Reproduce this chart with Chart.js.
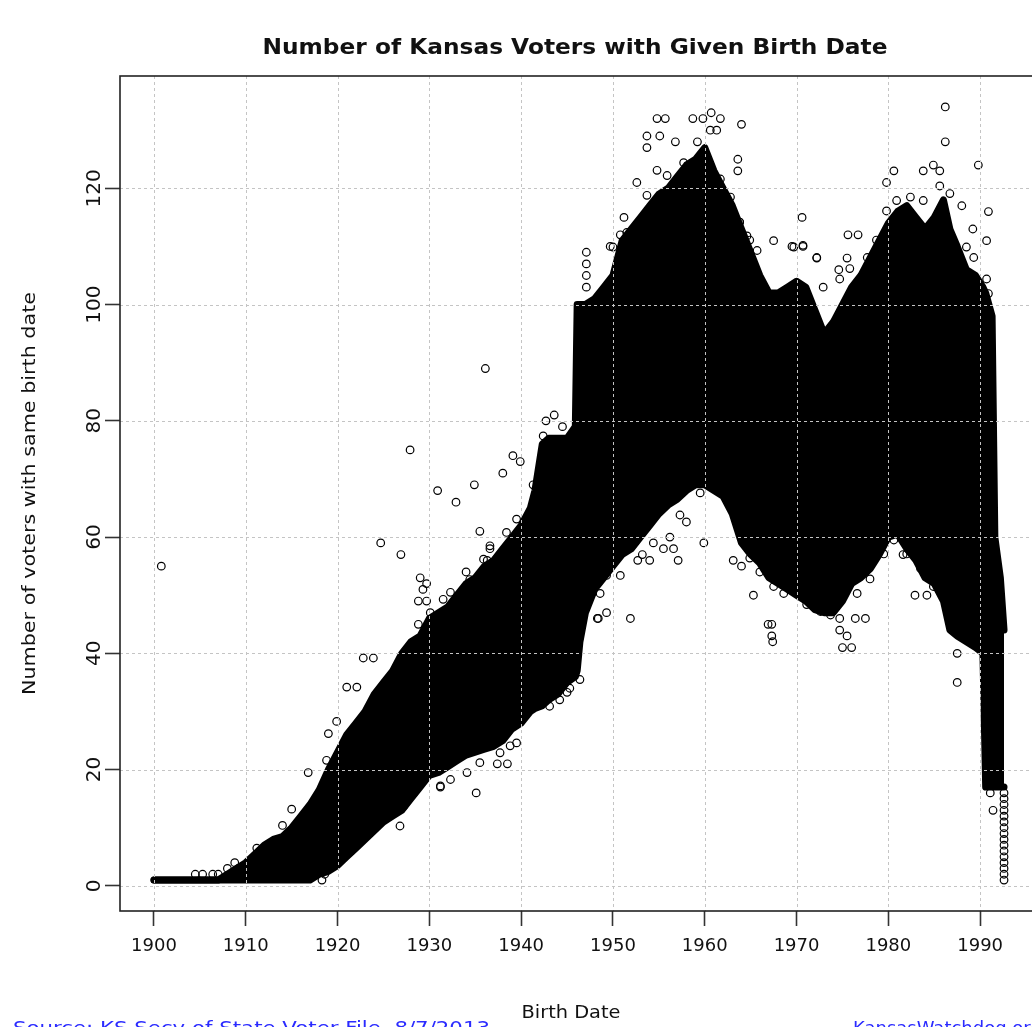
<!DOCTYPE html>
<html>
<head>
<meta charset="utf-8">
<script src="https://cdn.jsdelivr.net/npm/chart.js@4/dist/chart.umd.min.js"></script>
<style>
  html, body { margin: 0; padding: 0; background: #fff; overflow: hidden; }
  #wrap { width: 1032px; height: 1027px; overflow: hidden; position: relative; }
  canvas { display: block; }
</style>
</head>
<body>
<div id="wrap"><canvas id="c" width="1046" height="1027"></canvas></div>
<script>
// ---- Data ----
// Envelope of the dense cloud of points (birth year, count of voters)
const bandYears = [1900,1901,1902,1903,1904,1905,1906,1907,1908,1909,1910,1911,1912,1913,1914,1915,1916,1917,1918,1919,
  1920,1921,1922,1923,1924,1925,1926,1927,1928,1929,1930,1931,1932,1933,1934,1935,1936,1937,1938,1939,
  1940,1941,1941.5,1942.3,1943,1944,1945,1945.9,1946.1,1946.4,1947,1948,1949,1950,1951,1952,1953,1954,1955,1956,
  1957,1958,1959,1960,1961,1962,1963,1964,1965,1966,1967,1968,1969,1970,1971,1972,1973,1974,1975,1976,
  1977,1978,1979,1980,1981,1982,1983,1984,1985,1986,1986.7,1987.5,1988.5,1989.5,1990.3,1990.6,1991.3,1991.6,1992.2,1992.6];
const bandUpper = [1,1,1,1,1,1,1,1,2,3,4,5.5,7,8,8.5,10,12,14,16.5,20,
  23,26,28,30,33,35,37,40,42,43,46,47,48,50,52,53,55,56,58,60,
  62,65,68,76,77,77,77,79,100,100,100,101,103,105,111,113,115,117,119,120,
  122,124,125,127,123,120,117,113,109,105,102,102,103,104,103,99,95,97,100,103,
  105,108,111,114,116,117,115,113,115,118,113,110,106,105,103,102,98,60,53,44];
const bandLower = [1,1,1,1,1,1,1,1,1,1,1,1,1,1,1,1,1,1,2,2.5,
  3.5,5,6.5,8,9.5,11,12,13,15,17,19,19.5,20.5,21.5,22.5,23,23.5,24,25,27,
  28,30,30.5,31,32,33,35,36,37,42,47,51,53,55,57,58,60,62,64,65.5,
  66.5,68,69,69,68,67,64,59,57,55.5,53,52,51,50,49,47.5,47,47,49,52,
  53,54.5,57,60,60.5,58,56,53,52,49,44,43,42,41,40,17,17,17,17,17];

// Individual points at the edges of, or outside, the dense cloud
const pointYears = [1900.8,1904.5,1905.3,1906.4,1907,1908,1908.8,1909.2,1911.2,1914,1915,1916.8,1918.8,1919,1919.9,1921,1922.1,1922.8,1923.9,
  1918.3,1918.6,1926.8,1924.7,1926.9,1927.9,1930.9,1932.9,1934.9,1936.1,1938,1939.1,1939.9,1941.3,1942.7,1943.6,1944.5,1935.5,1934,1936.6,1936.3,
  1929,1929.7,1929.3,1928.8,1929.7,1928.8,1935.1,1938.5,1937.4,1931.2,1944.2,1945.3,1948.3,
  1947.1,1947.1,1947.1,1947.1,
  1954.8,1955.7,1958.7,1959.8,1960.7,1961.7,1964,1953.7,1955.1,1953.7,1956.8,1959.2,1960.6,1961.3,1963.6,1963.6,1952.6,1951.2,1949.7,1950.8,
  1948.4,1949.3,1951.9,1952.7,1954,1954.4,1955.5,1956.6,1957.1,1956.2,1959.9,1963.1,1964,1965.3,1953.2,
  1986.2,1986.2,1989.8,1990.9,1990.7,1989.2,1970.6,1967.5,1975.6,1976.7,1980.6,1979.8,1983.8,1984.9,1985.6,1988,1969.5,1970.7,1972.2,1972.9,1975.5,1974.6,
  1967.3,1967.3,1966.9,1967.4,1975,1976,1974.7,1975.5,1976.4,1977.5,1982.9,1984.2,1981.6,1987.5,1987.5,1991.4,1991.1,
  1992.6,1992.6,1992.6,1992.6,1992.6,1992.6,1992.6,1992.6,1992.6,1992.6,1992.6,1992.6,1992.6,1992.6,1992.6,1992.6,
  1953.7,1954.8,1955.9,1957.7,1951.5,1950,1961.7,1962.8,1963.8,1964.9,1965.7,
  1949.3,1950.8,1948.6,1954.4,1955.9,1957.3,1958,1959.5,1960.6,1961.7,1962.4,1963.8,1964.6,
  1969.7,1970.7,1972.2,1974.7,1975.8,1977.7,1978.7,1979.8,1980.9,1982.4,1983.8,1985.6,1986.7,1988.5,1989.3,1990.7,1990.9,1963.8,1964.6,1966,
  1964.9,1966,1967.5,1968.6,1971.1,1972.6,1973.7,1974.7,1976.6,1978,1979.5,1980.6,1982,1983.5,1984.9,1986,
  1942.4,1943.9,1939.5,1938.4,1936.6,1935.9,1934.4,1932.3,1931.5,1930.1,
  1939.5,1938.8,1937.7,1935.5,1934.1,1932.3,1931.2,1929.7,1928.3,1927.2,1942.1,1943.1,1945,1946.4];
const pointCounts = [55,2,2,2,2,3,4,3,6.5,10.4,13.2,19.5,21.6,26.2,28.3,34.2,34.2,39.2,39.2,
  1,2,10.3,59,57,75,68,66,69,89,71,74,73,69,80,81,79,61,54,58,56,
  53,52,51,49,49,45,16,21,21,17,32,34,46,
  109,107,105,103,
  132,132,132,132,133,132,131,129,129,127,128,128,130,130,125,123,121,115,110,112,
  46,47,46,56,56,59,58,58,56,60,59,56,55,50,57,
  134,128,124,116,111,113,115,111,112,112,123,121,123,124,123,117,110,110,108,103,108,106,
  45,43,45,42,41,41,44,43,46,46,50,50,57,40,35,13,16,
  1,2,3,4,5,6,7,8,9,10,11,12,13,14,15,16,
  118.8,123.1,122.2,124.4,112.4,109.9,121.6,118.5,114.2,111.1,109.3,
  53.4,53.4,50.3,65,66.3,63.8,62.6,67.6,68.8,68.1,68.1,63.3,60.7,
  109.9,110.2,108.1,104.4,106.2,108.1,111.1,116.1,117.9,118.5,117.9,120.4,119.1,109.9,108.1,104.4,101.9,114.2,111.8,104.4,
  56.4,54,51.5,50.3,48.4,47.2,46.6,46,50.3,52.8,57.1,59.5,57.1,54.6,51.5,50.3,
  77.4,76.3,63.1,60.8,58.5,56.2,52.7,50.5,49.3,47,
  24.6,24.1,22.9,21.2,19.5,18.3,17.2,20.1,16,13.7,32.1,30.9,33.3,35.5];

const xTickValues = [1900,1910,1920,1930,1940,1950,1960,1970,1980,1990];
const yTickValues = [0,20,40,60,80,100,120];

const titleText = 'Number of Kansas Voters with Given Birth Date';
const xTitleText = 'Birth Date';
const yTitleText = 'Number of voters with same birth date';
const sourceText = 'Source: KS Secy of State Voter File, 8/7/2013';
const creditText = 'KansasWatchdog.org';

// ---- Chart ----
const upperPts = bandYears.map((x, i) => ({x: x, y: bandUpper[i]}));
const lowerPts = bandYears.map((x, i) => ({x: x, y: bandLower[i]}));
const edgePts = pointYears.map((x, i) => ({x: x, y: pointCounts[i]}));

const FONT = '"DejaVu Sans", "Liberation Sans", Arial, sans-serif';

function drawText(ctx, s, x, y, o) {
  ctx.save();
  ctx.font = (o.bold ? 'bold ' : '') + o.size + 'px ' + FONT;
  ctx.fillStyle = o.color || '#111';
  ctx.textAlign = o.align || 'center';
  ctx.textBaseline = o.baseline || 'middle';
  ctx.translate(x, y);
  if (o.rot) ctx.rotate(o.rot);
  if (o.width) {
    const w = ctx.measureText(s).width;
    ctx.scale(o.width / w, 1);
  }
  ctx.fillText(s, 0, 0);
  ctx.restore();
}

const decor = {
  id: 'decor',
  afterDatasetsDraw(chart) {
    // dotted light-grey grid drawn over the points, as in the reference
    const ctx = chart.ctx;
    const a = chart.chartArea;
    const xs = chart.scales.x, ys = chart.scales.y;
    ctx.save();
    ctx.strokeStyle = '#c4c4c4';
    ctx.lineWidth = 1;
    ctx.setLineDash([3, 3]);
    ctx.beginPath();
    xTickValues.forEach(v => {
      const px = Math.round(xs.getPixelForValue(v)) + 0.5;
      ctx.moveTo(px, a.top); ctx.lineTo(px, a.bottom);
    });
    yTickValues.forEach(v => {
      const py = Math.round(ys.getPixelForValue(v)) + 0.5;
      ctx.moveTo(a.left, py); ctx.lineTo(a.right, py);
    });
    ctx.stroke();
    ctx.restore();
  },
  afterDraw(chart) {
    const ctx = chart.ctx;
    const a = chart.chartArea;
    const xs = chart.scales.x, ys = chart.scales.y;
    // plot box
    ctx.save();
    ctx.strokeStyle = '#222';
    ctx.lineWidth = 1.6;
    ctx.strokeRect(a.left, a.top, a.right - a.left, a.bottom - a.top);
    ctx.restore();
    // tick labels
    xTickValues.forEach(v => drawText(ctx, String(v), xs.getPixelForValue(v), 946, {size: 18}));
    yTickValues.forEach(v => drawText(ctx, String(v), 95, ys.getPixelForValue(v), {size: 20, rot: -Math.PI / 2}));
    // titles
    drawText(ctx, titleText, 575, 48, {size: 22, bold: true, width: 625});
    drawText(ctx, xTitleText, 571, 1013, {size: 18, width: 99});
    drawText(ctx, yTitleText, 30, (a.top + a.bottom) / 2, {size: 18, rot: -Math.PI / 2, width: 403});
    drawText(ctx, sourceText, 13, 1034, {size: 18, align: 'left', baseline: 'alphabetic', color: '#2b2bff', width: 477});
    drawText(ctx, creditText, 853, 1034, {size: 18, align: 'left', baseline: 'alphabetic', color: '#2b2bff'});
  }
};

const gridCommon = {
  drawOnChartArea: false,
  drawTicks: true,
  tickLength: 15,
  tickColor: '#333',
  tickWidth: 1.6,
  tickBorderDash: []
};

new Chart(document.getElementById('c'), {
  type: 'line',
  data: {
    datasets: [
      { label: 'upper', data: upperPts, borderColor: '#000', backgroundColor: '#000', borderWidth: 7,
        borderJoinStyle: 'round', borderCapStyle: 'round', pointRadius: 0, fill: '+1', tension: 0, order: 2 },
      { label: 'lower', data: lowerPts, borderColor: '#000', backgroundColor: '#000', borderWidth: 7,
        borderJoinStyle: 'round', borderCapStyle: 'round', pointRadius: 0, fill: false, tension: 0, order: 2 },
      { label: 'points', type: 'scatter', data: edgePts, showLine: false, pointStyle: 'circle', pointRadius: 3.8,
        pointBorderWidth: 1.2, pointBorderColor: '#000', pointBackgroundColor: 'rgba(0,0,0,0)', order: 1 }
    ]
  },
  options: {
    responsive: false,
    animation: false,
    devicePixelRatio: 1,
    layout: { padding: { top: 76, right: 8, left: 0, bottom: 0 } },
    plugins: { legend: { display: false }, tooltip: { enabled: false }, title: { display: false } },
    scales: {
      x: {
        type: 'linear', position: 'bottom', min: 1896.3, max: 1996.3,
        afterBuildTicks: s => { s.ticks = xTickValues.map(v => ({value: v})); },
        afterFit: s => { s.height = 116; },
        ticks: { display: false },
        grid: gridCommon,
        border: { display: false }
      },
      y: {
        type: 'linear', position: 'left', min: -4.32, max: 139.32,
        afterBuildTicks: s => { s.ticks = yTickValues.map(v => ({value: v})); },
        afterFit: s => { s.width = 120; },
        ticks: { display: false },
        grid: gridCommon,
        border: { display: false }
      }
    }
  },
  plugins: [decor]
});
</script>
</body>
</html>
